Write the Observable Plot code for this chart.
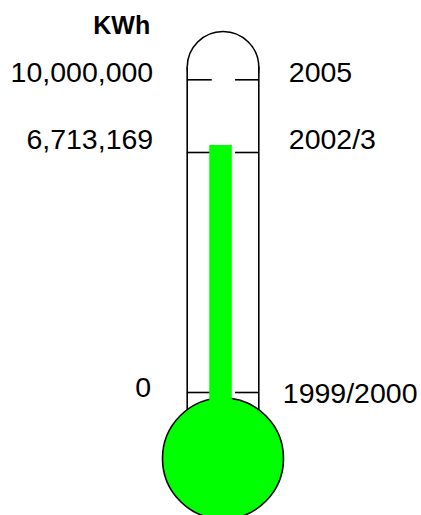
<!DOCTYPE html>
<html>
<head>
<meta charset="utf-8">
<script src="https://cdn.jsdelivr.net/npm/d3@7"></script>
<script src="https://cdn.jsdelivr.net/npm/@observablehq/plot@0.6"></script>
<style>
  html, body { margin: 0; padding: 0; background: #fff; }
  svg { display: block; }
</style>
</head>
<body>
<div id="chart"></div>
<script>
// Data
const unit = "KWh";
const tickValues = [0, 6713169, 10000000];
const valueLabels = ["0", "6,713,169", "10,000,000"];
const periodLabels = ["1999/2000", "2002/3", "2005"];
const current = 6713169;

const rows = tickValues.map((v, i) => ({value: v, label: valueLabels[i], period: periodLabels[i]}));
const green = "#00ff00";
const font = "Liberation Sans, Arial, sans-serif";
const maxValue = tickValues[tickValues.length - 1];

const txt = (row, opts) => Plot.text([row], {
  y: "value", fontSize: 28.5, fontFamily: font, fill: "black", lineAnchor: "middle", ...opts
});

const chart = Plot.plot({
  width: 421,
  height: 515,
  margin: 0,
  style: {background: "white", overflow: "hidden"},
  x: {domain: [-1, 1], range: [186.7, 258.3], axis: null},
  y: {type: "linear", domain: tickValues, range: [392, 152, 79.3], axis: null},
  marks: [
    // rounded top of the tube
    Plot.dot([maxValue], {x: () => 0, y: d => d, dy: -12.5, r: 35.8, fill: "white", stroke: "black", strokeWidth: 1.6}),
    Plot.rect([maxValue], {x1: () => -1, x2: () => 1, y1: () => current, y2: d => d, insetTop: -12.5, fill: "white"}),
    // tube walls
    Plot.ruleX([-1, 1], {y1: () => maxValue, y2: () => 0, insetTop: -12.5, insetBottom: -30, stroke: "black", strokeWidth: 1.6}),
    // tick marks
    Plot.ruleY(rows, {y: "value", x1: () => -1, x2: () => -0.3, stroke: "black", strokeWidth: 1.6}),
    Plot.ruleY(rows, {y: "value", x1: () => 0.35, x2: () => 1, stroke: "black", strokeWidth: 1.6}),
    // bulb
    Plot.dot([0], {x: () => 0, y: d => d, dy: 66, r: 60.5, fill: green, stroke: "black", strokeWidth: 1.6}),
    // mercury column
    Plot.rect([current], {x1: () => -0.37, x2: () => 0.26, y1: () => 0, y2: d => d, insetTop: -7, insetBottom: -30, fill: green}),
    // unit label
    Plot.text([unit], {x: () => -1, y: () => maxValue, text: d => d, dx: -37, dy: -54, textAnchor: "end", lineAnchor: "middle", fontSize: 25, fontWeight: "bold", fontFamily: font, fill: "black"}),
    // value labels (left)
    txt(rows[2], {x: () => -1, text: "label", textAnchor: "end", dx: -34, dy: -7}),
    txt(rows[1], {x: () => -1, text: "label", textAnchor: "end", dx: -34, dy: -13}),
    txt(rows[0], {x: () => -1, text: "label", textAnchor: "end", dx: -36, dy: -4.5}),
    // period labels (right)
    txt(rows[2], {x: () => 1, text: "period", textAnchor: "start", dx: 30, dy: -7}),
    txt(rows[1], {x: () => 1, text: "period", textAnchor: "start", dx: 30, dy: -13}),
    txt(rows[0], {x: () => 1, text: "period", textAnchor: "start", dx: 24, dy: 1})
  ]
});
document.getElementById("chart").appendChild(chart);
</script>
</body>
</html>
